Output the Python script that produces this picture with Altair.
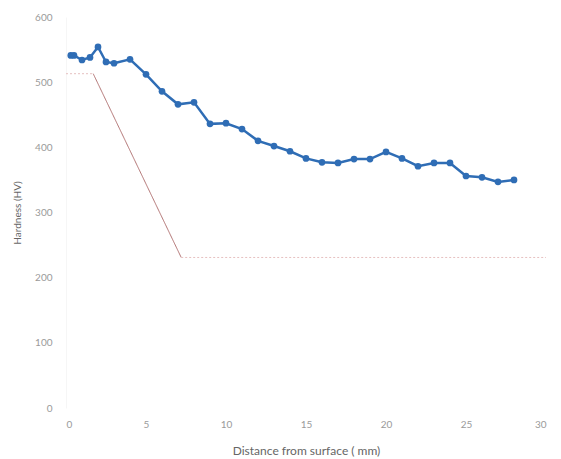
import altair as alt
import pandas as pd

distance = [0.3, 0.5, 1.0, 1.5, 2.0, 2.5, 3.0, 4.0, 5, 6, 7, 8, 9, 10, 11, 12, 13, 14,
            15, 16, 17, 18, 19, 20, 21, 22, 23, 24, 25, 26, 27, 28]
hardness = [541, 541, 534, 538, 554, 531, 529, 535, 512, 486, 466, 469, 436, 437, 428,
            410, 402, 394, 383, 377, 376, 382, 382, 393, 383, 371, 376, 376, 356, 354,
            347, 350]

spec_x = [0, 1.7, 1.7, 7.2, 7.2, 30]
spec_y = [513, 513, 513, 231, 231, 231]
spec_seg = ["a", "a", "b", "b", "c", "c"]
spec_style = ["dot", "dot", "solid", "solid", "dot", "dot"]

meas = pd.DataFrame({"d": distance, "h": hardness})
spec = pd.DataFrame({"d": spec_x, "h": spec_y, "seg": spec_seg, "style": spec_style})

xscale = alt.Scale(domain=[0, 30], nice=False)
yscale = alt.Scale(domain=[0, 600], nice=False)

xaxis = alt.Axis(title="Distance from surface ( mm)", values=[0, 5, 10, 15, 20, 25, 30],
                 grid=False, domain=False, ticks=False, labelPadding=11,
                 labelColor="#9a9a9a", labelFontSize=10, titleFontSize=12,
                 titleColor="#666666", titleFontWeight="normal", titlePadding=16,
                 labelFont="Lato", titleFont="Lato")
yaxis = alt.Axis(title="Hardness (HV)", values=[0, 100, 200, 300, 400, 500, 600],
                 grid=False, domainColor="#f6f6f6", ticks=False, labelPadding=14,
                 labelColor="#9a9a9a", labelFontSize=10, titleFontSize=10,
                 titleColor="#666666", titleFontWeight="normal", titlePadding=12,
                 labelFont="Lato", titleFont="Lato")

spec_line = alt.Chart(spec).mark_line(strokeWidth=1).encode(
    x=alt.X("d:Q", scale=xscale, axis=xaxis),
    y=alt.Y("h:Q", scale=yscale, axis=yaxis),
    detail="seg:N",
    color=alt.Color("style:N", scale=alt.Scale(domain=["dot", "solid"], range=["#e6c0c0", "#b07070"]), legend=None),
    strokeDash=alt.StrokeDash("style:N", scale=alt.Scale(domain=["dot", "solid"], range=[[2, 2], [1, 0]]), legend=None),
)

meas_line = alt.Chart(meas).mark_line(color="#2f6db5", strokeWidth=2.5).encode(
    x=alt.X("d:Q", scale=xscale),
    y=alt.Y("h:Q", scale=yscale),
)
meas_pts = alt.Chart(meas).mark_circle(color="#2f6db5", size=45, opacity=1).encode(
    x=alt.X("d:Q", scale=xscale),
    y=alt.Y("h:Q", scale=yscale),
)

chart = (spec_line + meas_line + meas_pts).properties(
    width=480, height=391,
    autosize=alt.AutoSizeParams(type="none"),
    padding={"left": 58, "top": 9, "right": 7, "bottom": 50},
).configure_view(stroke=None)

chart.save("out.html", embed_options={"renderer": "svg", "actions": False})
